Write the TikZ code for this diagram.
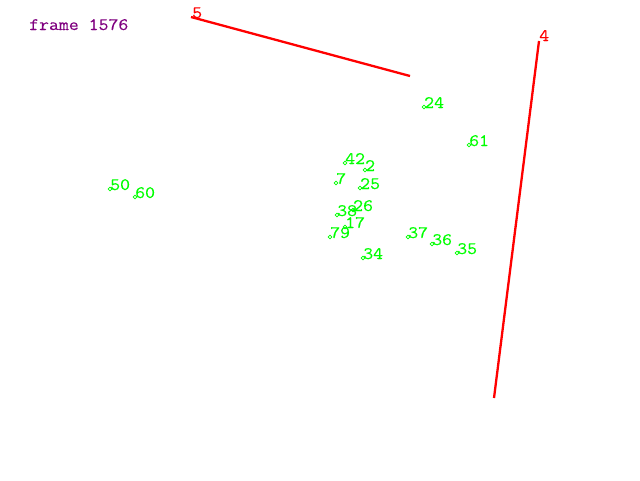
\documentclass[tikz,border=0pt]{standalone}
\usepackage{fontspec}
\setmonofont[FakeStretch=1.1,FakeBold=0.25]{Latin Modern Mono}
\usetikzlibrary{shapes.geometric}
\definecolor{pgreen}{RGB}{0,255,0}
\definecolor{pred}{RGB}{255,0,0}
\definecolor{ppurple}{RGB}{128,0,128}
\tikzset{
  fnt/.style={font=\ttfamily\fontsize{17.5}{17.5}\selectfont},
  pt/.style={diamond,draw=pgreen,line width=0.6pt,inner sep=0pt,minimum size=4pt},
  lbl/.style={fnt,anchor=base west,inner sep=0pt,text=pgreen},
  rlbl/.style={fnt,anchor=base west,inner sep=0pt,text=pred},
  seg/.style={draw=pred,line width=2.3pt}
}
\begin{document}
\begin{tikzpicture}[x=1pt,y=-1pt]
\useasboundingbox[fill=white] (0,0) rectangle (640,480);
\node[fnt,anchor=base west,inner sep=0pt,text=ppurple] (title) at (29,30) {frame 1576};
% red segments
\coordinate (a5) at (191,17);
\coordinate (b5) at (410,76);
\draw[seg] (a5) -- (b5);
\node[rlbl] (l5) at (192,18) {5};
\coordinate (a4) at (539,41);
\coordinate (b4) at (494,398);
\draw[seg] (a4) -- (b4);
\node[rlbl] (l4) at (539,41) {4};
% green points
\foreach \nm/\x/\y in {24/424/107, 61/469/145, 42/345/163, 2/365/170, 7/336/183, 25/360/188,
  38/337/215, 26/353/210, 17/345/227, 79/330/237, 37/408/237, 36/432/244, 35/457/253,
  34/363/258, 50/110/189, 60/135/197}{
  \node[pt] (p\nm) at (\x,\y) {};
  \node[lbl] (t\nm) at (\x,\y+1) {\nm};
}
\end{tikzpicture}
\end{document}
